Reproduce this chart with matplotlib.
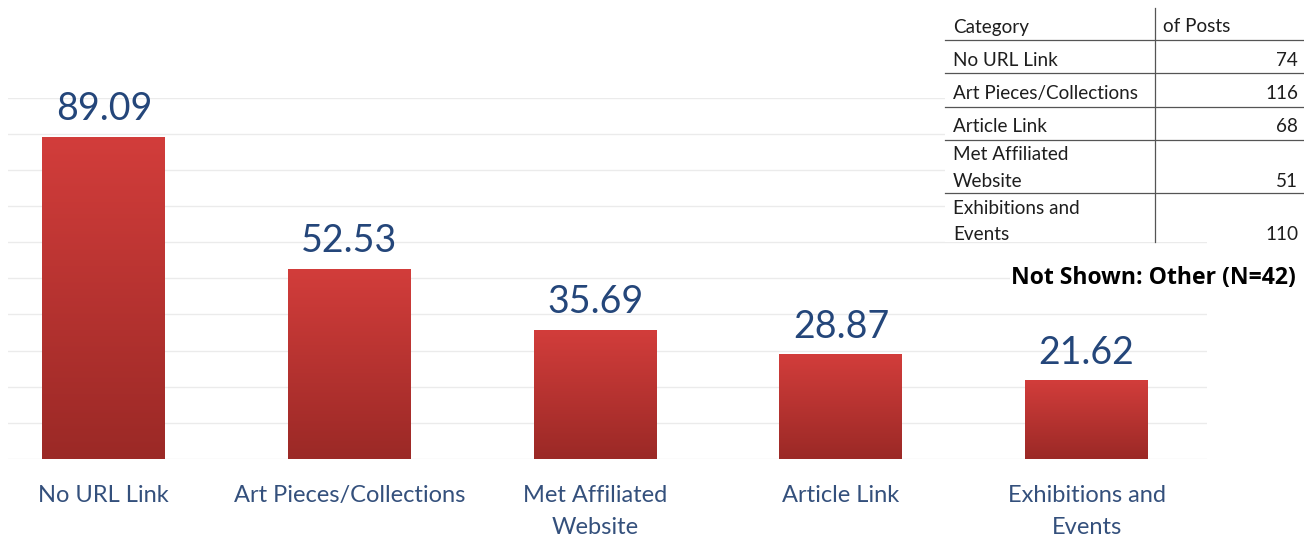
import numpy as np
import matplotlib.pyplot as plt
from matplotlib.colors import LinearSegmentedColormap
from matplotlib.patches import Rectangle
from matplotlib.lines import Line2D

# bar chart values
categories = ['No URL Link', 'Art Pieces/Collections', 'Met Affiliated\nWebsite',
              'Article Link', 'Exhibitions and\nEvents']
values = [89.09, 52.53, 35.69, 28.87, 21.62]

# table of post counts
table_header = ['Category', 'of Posts']
table_categories = ['No URL Link', 'Art Pieces/Collections', 'Article Link',
                    'Met Affiliated\nWebsite', 'Exhibitions and\nEvents']
table_posts = [74, 116, 68, 51, 110]
note = 'Not Shown: Other (N=42)'

text_blue = '#24467a'
label_blue = '#34507c'
grad = LinearSegmentedColormap.from_list('barred', ['#9b2926', '#d23d3b'])

fig = plt.figure(figsize=(13.04, 5.4), dpi=100)
W, H = 1304, 540
ax = fig.add_axes([8 / W, (540 - 459) / H, (1207 - 8) / W, (459 - 97.6) / H])

x = np.arange(len(categories))
width = 0.5
ax.set_xlim(-0.39, 4.49)
ax.set_ylim(0, 100)

# light horizontal gridlines
for g in np.arange(0, 101, 10):
    ax.axhline(g, color='#ebebeb', lw=1.0, zorder=0)

# gradient filled bars
gradient = np.linspace(0, 1, 256).reshape(-1, 1)
for xi, v in zip(x, values):
    ax.imshow(gradient, cmap=grad, origin='lower', aspect='auto',
              extent=(xi - width / 2, xi + width / 2, 0, v), zorder=2)
    ax.annotate(f'{v:.2f}', (xi, v), xytext=(0, 12), textcoords='offset points',
                ha='center', va='baseline', fontsize=27, color=text_blue,
                family='Lato')

ax.set_xticks(x)
ax.set_xticklabels(categories, fontsize=17, color=label_blue, family='Lato',
                   linespacing=1.6)
ax.tick_params(axis='x', length=0, pad=19)
ax.set_yticks([])
for s in ax.spines.values():
    s.set_visible(False)

# table block in the upper right
fig.add_artist(Rectangle((945 / W, 1 - 242 / H), (W - 945) / W, 242 / H,
                         transform=fig.transFigure, facecolor='white',
                         edgecolor='none', zorder=5))


def fx(px):
    return px / W


def fy(py):
    return 1 - py / H


line_kw = dict(color='#555555', lw=0.9, transform=fig.transFigure, zorder=6)
fig.add_artist(Line2D([fx(1155), fx(1155)], [fy(8), fy(242)], **line_kw))
for ly in [40, 73, 107, 140, 193]:
    fig.add_artist(Line2D([fx(945), fx(1304)], [fy(ly), fy(ly)], **line_kw))

tkw = dict(fontsize=13.6, family='Lato', color='#1e1e1e', zorder=7)
fig.text(fx(953), fy(27), table_header[0], va='center', ha='left', **tkw)
fig.text(fx(1163), fy(27), table_header[1], va='center', ha='left', **tkw)

row_y = [(60,), (93,), (126,), (155, 181), (208, 235)]
for name, n, ys in zip(table_categories, table_posts, row_y):
    for part, py in zip(name.split('\n'), ys):
        fig.text(fx(953), fy(py), part, va='center', ha='left', **tkw)
    fig.text(fx(1298), fy(ys[-1]), str(n), va='center', ha='right', **tkw)

fig.text(fx(1296), fy(278), note, ha='right', va='center', fontsize=16.6,
         family='Open Sans', weight='bold', color='black', zorder=7,
         bbox=dict(facecolor='white', edgecolor='none', pad=1))

fig.savefig('out.png', dpi=100, facecolor='white')
